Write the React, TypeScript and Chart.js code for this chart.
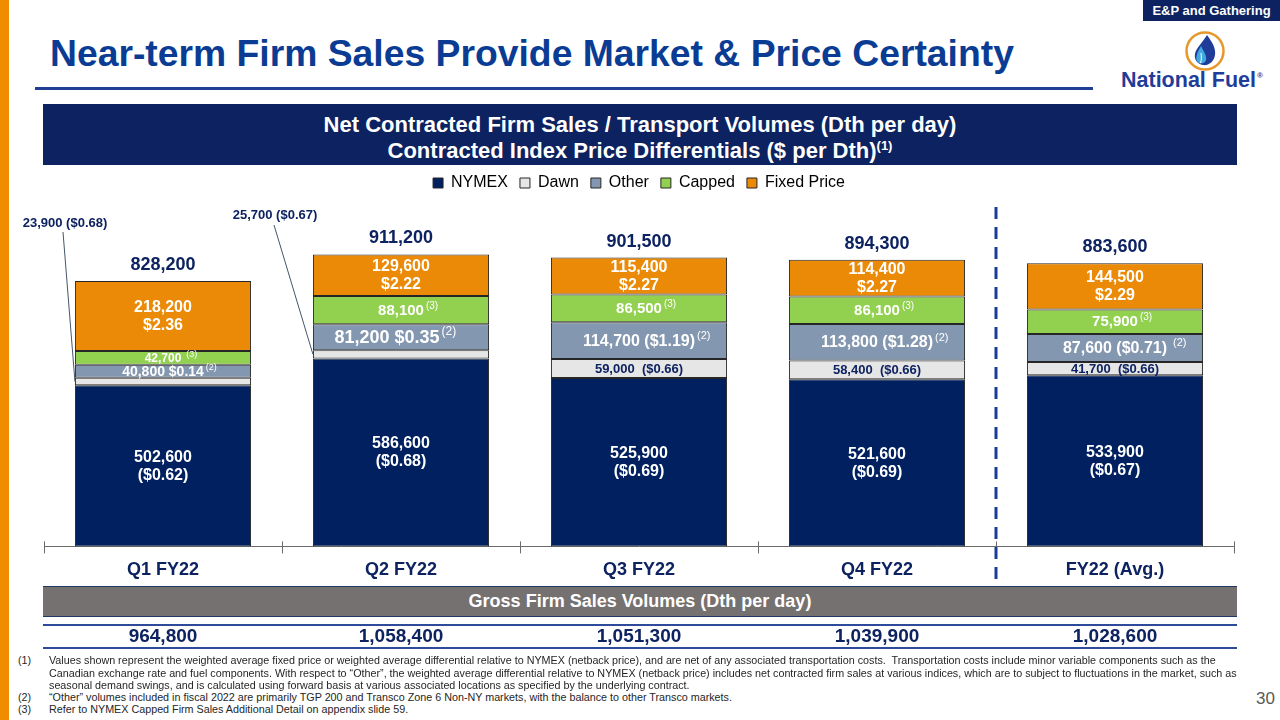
import React, { useEffect, useRef } from "react";
import { Chart, registerables } from "chart.js";

Chart.register(...registerables);

// ---- data ----
const categories = ["Q1 FY22", "Q2 FY22", "Q3 FY22", "Q4 FY22", "FY22 (Avg.)"];
const seriesNames = ["NYMEX", "Dawn", "Other", "Capped", "Fixed Price"];
const nymexVolumes = [502600, 586600, 525900, 521600, 533900];
const nymexDiffs = [-0.62, -0.68, -0.69, -0.69, -0.67];
const dawnVolumes = [23900, 25700, 59000, 58400, 41700];
const dawnDiffs = [-0.68, -0.67, -0.66, -0.66, -0.66];
const otherVolumes = [40800, 81200, 114700, 113800, 87600];
const otherDiffs = [0.14, 0.35, -1.19, -1.28, -0.71];
const cappedVolumes = [42700, 88100, 86500, 86100, 75900];
const fixedVolumes = [218200, 129600, 115400, 114400, 144500];
const fixedPrices = [2.36, 2.22, 2.27, 2.27, 2.29];
const grossVolumes = [964800, 1058400, 1051300, 1039900, 1028600];

const footnotes = [
  ["(1)", "Values shown represent the weighted average fixed price or weighted average differential relative to NYMEX (netback price), and are net of any associated transportation costs.  Transportation costs include minor variable components such as the"],
  ["", "Canadian exchange rate and fuel components. With respect to \u201cOther\u201d, the weighted average differential relative to NYMEX (netback price) includes net contracted firm sales at various indices, which are to subject to fluctuations in the market, such as"],
  ["", "seasonal demand swings, and is calculated using forward basis at various associated locations as specified by the underlying contract."],
  ["(2)", "\u201cOther\u201d volumes included in fiscal 2022 are primarily TGP 200 and Transco Zone 6 Non-NY markets, with the balance to other Transco markets."],
  ["(3)", "Refer to NYMEX Capped Firm Sales Additional Detail on appendix slide 59."],
];

// ---- styles ----
const FONT = '"Liberation Sans", Arial, Helvetica, sans-serif';
const NAVY = "#0D2260";
const TITLE_BLUE = "#0B3C94";
const seriesColors = ["#002060", "#E7E6E6", "#8497B0", "#92D050", "#EA8A06"];
const otherLabelSize = [14, 18, 16, 16, 16];
const otherLabelShift = [0, -14, 0, 0, 0];
const cappedLabelSize = [12, 15, 15, 15, 15];
// Dawn callouts for thin segments: label offset from bar centre / chart top, leader start
const dawnCallouts: Record<number, { dx: number; dy: number; lx: number; ly: number }> = {
  0: { dx: -98, dy: -3, lx: -100, ly: 6 },
  1: { dx: -126, dy: -11, lx: -127, ly: -1 },
};

const fmtVol = (v: number) => v.toLocaleString("en-US");
const fmtPrice = (p: number) => (p < 0 ? `($${Math.abs(p).toFixed(2)})` : `$${p.toFixed(2)}`);

function drawText(
  ctx: CanvasRenderingContext2D,
  text: string,
  size: number,
  color: string,
  x: number,
  y: number,
  sup?: string,
  supGap = 2
) {
  ctx.font = `bold ${size}px ${FONT}`;
  ctx.fillStyle = color;
  ctx.textAlign = "center";
  ctx.textBaseline = "middle";
  ctx.fillText(text, x, y);
  if (sup) {
    const w = ctx.measureText(text).width;
    ctx.font = `${Math.max(9, Math.round(size * 0.66))}px ${FONT}`;
    ctx.textAlign = "left";
    ctx.fillText(sup, x + w / 2 + supGap, y - size * 0.32);
  }
}

const segmentLabels = {
  id: "segmentLabels",
  afterDatasetsDraw(chart: any) {
    const ctx: CanvasRenderingContext2D = chart.ctx;
    const metas = [0, 1, 2, 3, 4].map((i) => chart.getDatasetMeta(i));
    const top = chart.chartArea.top;
    ctx.save();
    for (let i = 0; i < categories.length; i++) {
      const seg = metas.map((m: any) => m.data[i].getProps(["x", "y", "base", "width"], true));
      const mid = (s: any) => (s.y + s.base) / 2;
      const x = seg[0].x;

      // NYMEX
      drawText(ctx, fmtVol(nymexVolumes[i]), 16, "#FFFFFF", x, mid(seg[0]) - 8.5);
      drawText(ctx, fmtPrice(nymexDiffs[i]), 16, "#FFFFFF", x, mid(seg[0]) + 9.5);

      // Dawn
      const co = dawnCallouts[i];
      if (co) {
        const lbl = `${fmtVol(dawnVolumes[i])} ${fmtPrice(dawnDiffs[i])}`;
        drawText(ctx, lbl, 13, NAVY, x + co.dx, top + co.dy);
        ctx.beginPath();
        ctx.strokeStyle = "#44546A";
        ctx.lineWidth = 1;
        ctx.moveTo(x + co.lx, top + co.ly);
        ctx.lineTo(x - seg[1].width / 2, mid(seg[1]));
        ctx.stroke();
      } else {
        drawText(ctx, `${fmtVol(dawnVolumes[i])}  ${fmtPrice(dawnDiffs[i])}`, 13, NAVY, x, mid(seg[1]) + 0.5);
      }

      // Other
      drawText(ctx, `${fmtVol(otherVolumes[i])} ${fmtPrice(otherDiffs[i])}`, otherLabelSize[i], "#FFFFFF", x + otherLabelShift[i], mid(seg[2]) + 0.5, "(2)", i === 4 ? 6 : 2);

      // Capped
      drawText(ctx, fmtVol(cappedVolumes[i]), cappedLabelSize[i], "#FFFFFF", x, mid(seg[3]) + 0.5, "(3)", i === 0 ? 5 : 2);

      // Fixed price
      drawText(ctx, fmtVol(fixedVolumes[i]), 16, "#FFFFFF", x, mid(seg[4]) - 8.5);
      drawText(ctx, fmtPrice(fixedPrices[i]), 16, "#FFFFFF", x, mid(seg[4]) + 9.5);

      // stack total
      const total = nymexVolumes[i] + dawnVolumes[i] + otherVolumes[i] + cappedVolumes[i] + fixedVolumes[i];
      drawText(ctx, fmtVol(total), 18, NAVY, x, seg[4].y - 16);
    }
    ctx.restore();
  },
};

// dashed divider between the quarters and the annual average, plus cross ticks on the axis
const axisDecor = {
  id: "axisDecor",
  afterDraw(chart: any) {
    const ctx: CanvasRenderingContext2D = chart.ctx;
    const xs = chart.scales.x;
    const bottom = chart.chartArea.bottom;
    ctx.save();
    const step = xs.width / categories.length;
    ctx.strokeStyle = "#6b6b6b";
    ctx.lineWidth = 1;
    for (let k = 0; k <= categories.length; k++) {
      const px = Math.round(xs.left + k * step) + 0.5;
      ctx.beginPath();
      ctx.moveTo(px, bottom - 5);
      ctx.lineTo(px, bottom);
      ctx.stroke();
    }
    const dx = (xs.getPixelForValue(3) + xs.getPixelForValue(4)) / 2;
    ctx.strokeStyle = "#1A3C96";
    ctx.lineWidth = 3;
    ctx.setLineDash([12, 8]);
    ctx.beginPath();
    ctx.moveTo(dx, chart.chartArea.top - 19);
    ctx.lineTo(dx, bottom + 33);
    ctx.stroke();
    ctx.restore();
  },
};

// extra room between the legend row and the plot
const legendSpacer = {
  id: "legendSpacer",
  beforeInit(chart: any) {
    const legend = chart.legend;
    if (!legend) return;
    const fit = legend.fit;
    legend.fit = function () {
      fit.call(this);
      this.height += 25;
    };
  },
};

function FirmSalesChart() {
  const canvasRef = useRef<HTMLCanvasElement | null>(null);
  useEffect(() => {
    if (!canvasRef.current) return;
    const volumes = [nymexVolumes, dawnVolumes, otherVolumes, cappedVolumes, fixedVolumes];
    const chart = new Chart(canvasRef.current, {
      type: "bar",
      data: {
        labels: categories,
        datasets: seriesNames.map((name, k) => ({
          label: name,
          data: volumes[k],
          backgroundColor: seriesColors[k],
          borderColor: "#262626",
          borderWidth: 1,
          borderSkipped: false,
          categoryPercentage: 1,
          barPercentage: 0.74,
        })),
      },
      options: {
        responsive: false,
        animation: false,
        layout: { padding: { left: 44, right: 46, top: 0, bottom: 6 } },
        scales: {
          x: {
            stacked: true,
            grid: { display: true, drawOnChartArea: false, drawTicks: true, tickLength: 7, offset: true, color: "#6b6b6b" },
            border: { display: true, color: "#6b6b6b", width: 1 },
            ticks: { color: NAVY, padding: 6, font: { family: FONT, size: 18, weight: "bold" } },
          },
          y: { stacked: true, display: false, min: 0, max: 1000000 },
        },
        plugins: {
          legend: {
            position: "top",
            align: "center",
            labels: { boxWidth: 10, boxHeight: 10, padding: 12, color: "#000000", font: { family: FONT, size: 16 } },
          },
          tooltip: { enabled: false },
        },
      } as any,
      plugins: [segmentLabels, axisDecor, legendSpacer],
    });
    return () => chart.destroy();
  }, []);
  return <canvas ref={canvasRef} width={1280} height={430} style={{ position: "absolute", left: 0, top: 163, width: 1280, height: 430 }} />;
}

function Logo() {
  return (
    <svg width={40} height={40} viewBox="0 0 40 40" style={{ position: "absolute", left: 1185, top: 31 }}>
      <circle cx={20} cy={20} r={18.5} fill="#FFFFFF" stroke="#E8982A" strokeWidth={2.5} />
      <path d="M22 4 C28 12 31 18 30 24 C29 31 23 35 18 34 C12 33 9 28 10 23 C11 17 18 11 22 4 Z" fill="#1F3C99" />
      <path d="M16 15 C19 21 22 25 21 29 C20 33 14 34 12 30 C10 26 13 20 16 15 Z" fill="#3FA9E0" />
      <path d="M16 22 C16.5 26 16.5 29 15.5 32" stroke="#FFFFFF" strokeWidth={1} fill="none" />
    </svg>
  );
}

export default function App() {
  const abs = (s: React.CSSProperties): React.CSSProperties => ({ position: "absolute", ...s });
  const noteTops = [654, 667, 679, 691, 703];
  return (
    <div style={{ position: "fixed", left: 0, top: 0, width: 1280, height: 720, background: "#FFFFFF", overflow: "hidden", fontFamily: FONT }}>
      <div style={abs({ left: 0, top: 0, width: 9, height: 720, background: "#F08C00" })} />
      <div style={abs({ left: 50, top: 35, fontSize: 37.3, lineHeight: "37px", fontWeight: 700, color: TITLE_BLUE, whiteSpace: "nowrap" })}>
        Near-term Firm Sales Provide Market &amp; Price Certainty
      </div>
      <div style={abs({ left: 35, top: 87, width: 1058, height: 3, background: "#1F3F94" })} />
      <div style={abs({ left: 1143, top: 0, width: 137, height: 21, background: NAVY, color: "#FFFFFF", fontSize: 13, fontWeight: 700, lineHeight: "21px", textAlign: "center" })}>
        E&amp;P and Gathering
      </div>
      <Logo />
      <div style={abs({ left: 1121, top: 68, fontSize: 21.5, lineHeight: "24px", fontWeight: 700, color: "#1F3D99", whiteSpace: "nowrap" })}>
        National Fuel<span style={{ fontSize: 8, position: "relative", top: -9, marginLeft: 1 }}>®</span>
      </div>

      <div style={abs({ left: 43, top: 104, width: 1194, height: 61, background: NAVY })} />
      <div style={abs({ left: 43, top: 112, width: 1194, color: "#FFFFFF", fontSize: 22, fontWeight: 700, lineHeight: "26px", textAlign: "center" })}>
        Net Contracted Firm Sales / Transport Volumes (Dth per day)
        <br />
        Contracted Index Price Differentials ($ per Dth)
        <span style={{ fontSize: 13, position: "relative", top: -8 }}>(1)</span>
      </div>

      <FirmSalesChart />

      <div style={abs({ left: 43, top: 586, width: 1194, height: 29, background: "#767171", borderTop: "1px solid #203864", borderBottom: "1px solid #203864", color: "#FFFFFF", fontSize: 18, fontWeight: 700, lineHeight: "29px", textAlign: "center" })}>
        Gross Firm Sales Volumes (Dth per day)
      </div>
      <div style={abs({ left: 43, top: 624, width: 1194, height: 2, background: "#2E4A9A" })} />
      <div style={abs({ left: 43, top: 647, width: 1194, height: 2, background: "#2E4A9A" })} />
      {grossVolumes.map((v, i) => (
        <div key={i} style={abs({ left: 163 + 238 * i - 80, top: 625, width: 160, fontSize: 19, lineHeight: "22px", fontWeight: 700, color: NAVY, textAlign: "center" })}>
          {fmtVol(v)}
        </div>
      ))}

      {footnotes.map(([mark, text], i) => (
        <React.Fragment key={i}>
          {mark && <div style={abs({ left: 18, top: noteTops[i], fontSize: 10.75, lineHeight: "12px", color: "#262626" })}>{mark}</div>}
          <div style={abs({ left: 49, top: noteTops[i], fontSize: 10.75, lineHeight: "12px", color: "#262626", whiteSpace: "pre" })}>{text}</div>
        </React.Fragment>
      ))}
      <div style={abs({ left: 1256, top: 689, fontSize: 17, lineHeight: "20px", color: "#595959" })}>30</div>
    </div>
  );
}
